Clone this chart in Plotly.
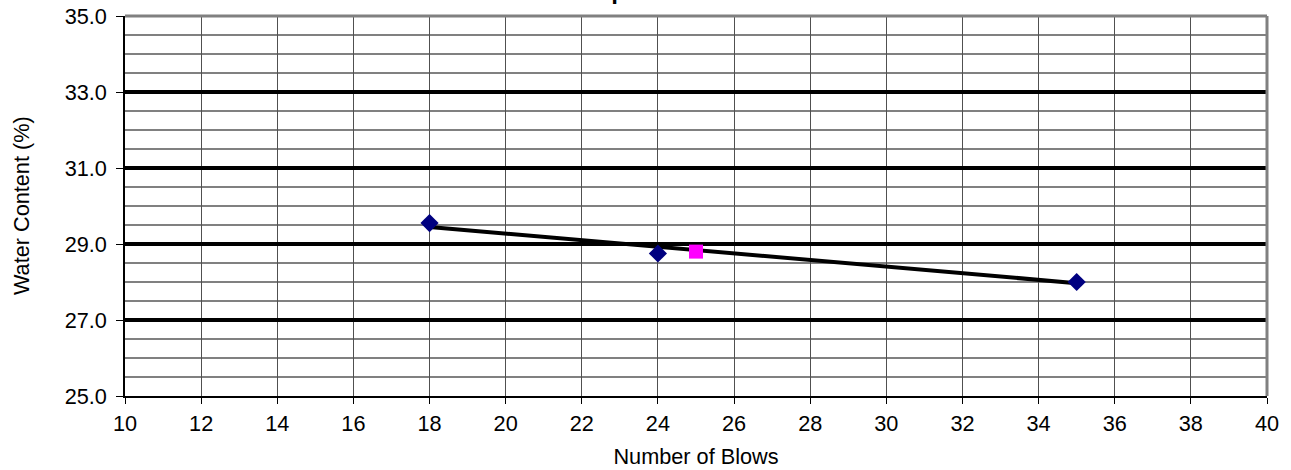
# Liquid limit chart: water content vs number of blows
import plotly.graph_objects as go

# data
blows = [18, 24, 35]
water_content = [29.55, 28.75, 28.0]

# liquid limit at 25 blows
ll_blows = [25]
ll_water = [28.8]

# best fit line end points
trend_blows = [18, 35]
trend_water = [29.45, 27.97]

x_ticks = list(range(10, 41, 2))
y_ticks = [25, 27, 29, 31, 33, 35]
y_labels = ["25.0", "27.0", "29.0", "31.0", "33.0", "35.0"]

font_name = "Liberation Sans, Arial, sans-serif"
text_size = 21.7

fig = go.Figure()

# trend line
fig.add_trace(go.Scatter(x=trend_blows, y=trend_water, mode="lines",
                         line=dict(color="black", width=4), showlegend=False))

# test points
fig.add_trace(go.Scatter(x=blows, y=water_content, mode="markers",
                         marker=dict(symbol="diamond", size=14, color="#000080"),
                         showlegend=False))

# liquid limit point
fig.add_trace(go.Scatter(x=ll_blows, y=ll_water, mode="markers",
                         marker=dict(symbol="square", size=14, color="#ff00ff"),
                         showlegend=False))

fig.update_xaxes(range=[10, 40], tickvals=x_ticks, ticks="outside", ticklen=6,
                 tickcolor="black", showgrid=True, gridcolor="#505050", gridwidth=1.2,
                 showline=True, linecolor="black", linewidth=1.5, zeroline=False,
                 ticklabelstandoff=1, automargin=False,
                 title=dict(text="Number of Blows", font=dict(size=text_size), standoff=14),
                 tickfont=dict(size=text_size))

fig.update_yaxes(range=[25, 35], tickvals=y_ticks, ticktext=y_labels, ticks="outside",
                 ticklen=7, tickcolor="black", showgrid=True, gridcolor="black",
                 gridwidth=4, showline=True, linecolor="black", linewidth=1.5,
                 zeroline=False, ticklabelstandoff=5, automargin=False,
                 minor=dict(dtick=0.5, showgrid=True, gridcolor="#808080", gridwidth=1.5,
                            ticks=""),
                 tickfont=dict(size=text_size))

# y axis title placed by hand, closer to the page edge
fig.add_annotation(text="Water Content (%)", xref="paper", yref="paper",
                   x=-0.091, y=0.5, xanchor="center", yanchor="middle",
                   textangle=-90, showarrow=False, font=dict(size=text_size))

# grey frame on top and right
fig.add_shape(type="line", xref="paper", yref="paper", x0=0, x1=1, y0=1, y1=1,
              line=dict(color="#808080", width=3))
fig.add_shape(type="line", xref="paper", yref="paper", x0=1, x1=1, y0=0, y1=1,
              line=dict(color="#808080", width=3))

# chart title, mostly clipped by the top of the page
fig.add_annotation(text="<b>Liquid Limit Results</b>", xref="paper", yref="paper",
                   x=0.5, y=1.026, xanchor="center", yanchor="bottom",
                   showarrow=False, font=dict(size=24, color="black"))

fig.update_layout(width=1291, height=470, plot_bgcolor="white", paper_bgcolor="white",
                  margin=dict(l=125, r=24, t=16, b=74),
                  font=dict(family=font_name, color="black"))

fig.write_html("out.html", config={"displayModeBar": False},
               post_script="document.body.style.margin = '0';")
